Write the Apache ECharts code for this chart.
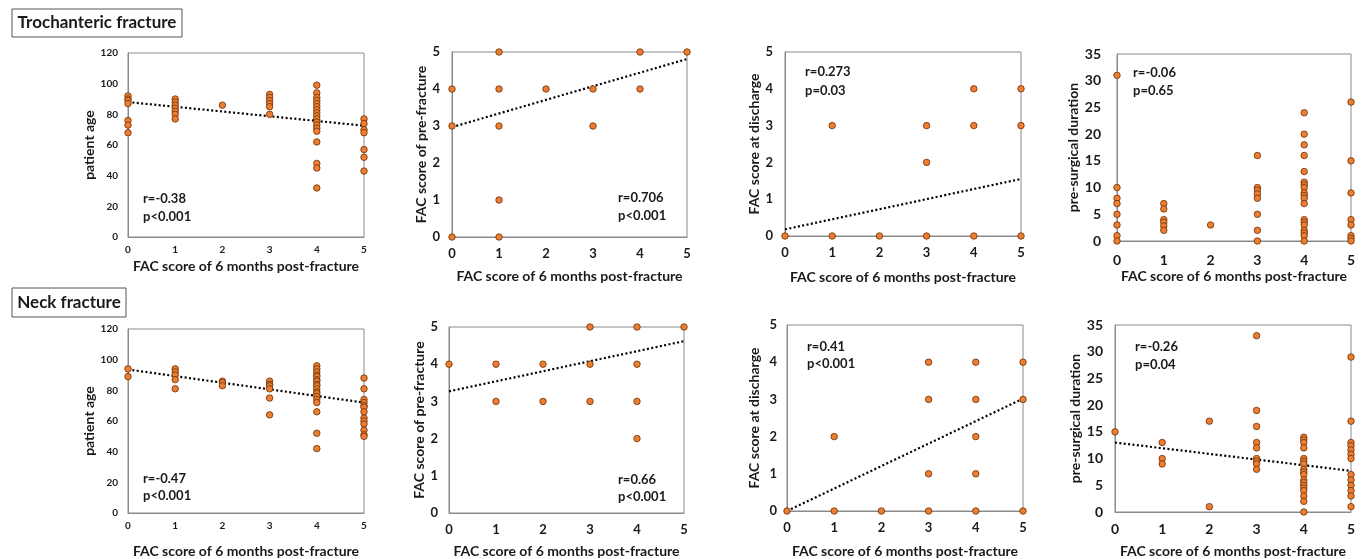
<!DOCTYPE html>
<html><head><meta charset="utf-8">
<script src="https://cdn.jsdelivr.net/npm/echarts@6/dist/echarts.min.js"></script>
<style>html,body{margin:0;padding:0;background:#fff}#c{width:1365px;height:559px}</style>
</head><body><div id="c"></div>
<script>
// ---------- DATA ----------
const facLevels = [0, 1, 2, 3, 4, 5];
const xTickLabels = ['0', '1', '2', '3', '4', '5'];
const ageTicks = [0, 20, 40, 60, 80, 100, 120];
const facTicks = [0, 1, 2, 3, 4, 5];
const durTicks = [0, 5, 10, 15, 20, 25, 30, 35];

// Trochanteric fracture: values per FAC-at-6-months level (0..5)
const trochAge = [
  [92, 90, 89, 87, 76, 73, 68],
  [90, 88, 86, 84, 82, 80, 77],
  [86],
  [93, 91, 89, 87, 85, 80],
  [99, 94, 91, 89, 87, 85, 83, 81, 79, 77, 75, 73, 71, 69, 62, 48, 45, 32],
  [77, 74, 70, 68, 57, 52, 43]
];
const trochPre = [[4, 3, 0], [5, 4, 3, 1, 0], [4], [4, 3], [5, 4], [5]];
const trochDis = [[0], [3, 0], [0], [3, 2, 0], [4, 3, 0], [4, 3, 0]];
const trochDur = [
  [31, 10, 8, 7, 5, 3, 1, 0],
  [7, 6, 4, 3.5, 2.8, 2],
  [3],
  [16, 10, 9.5, 8.8, 8, 5, 2, 0],
  [24, 20, 18, 16, 13, 11, 10.5, 10, 9, 8.5, 8, 7, 4, 3.5, 3, 2, 1.5, 1, 0],
  [26, 15, 9, 4, 3, 1, 0.5, 0]
];

// Neck fracture
const neckAge = [
  [94, 89],
  [94, 92, 90, 87, 81],
  [86, 85, 83],
  [86, 84, 83, 81, 75, 64],
  [96, 94, 92, 90, 89, 87, 86, 84, 83, 81, 79, 78, 76, 74, 72, 66, 52, 42],
  [88, 81, 74, 72, 70, 69, 66, 62, 60, 58, 54, 51, 50]
];
const neckPre = [[4], [4, 3], [4, 3], [5, 4, 3], [5, 4, 3, 2], [5]];
const neckDis = [[0], [2, 0], [0], [4, 3, 1, 0], [4, 3, 2, 1, 0], [4, 3, 0]];
const neckDur = [
  [15],
  [13, 10, 9],
  [17, 1],
  [33, 19, 16, 13, 12, 10, 9.5, 9, 8],
  [14, 13.5, 13, 12, 10, 9.5, 9, 8, 7.5, 7, 6, 5.5, 5, 4.5, 4, 3, 2, 0],
  [29, 17, 13, 12.4, 11.6, 10.8, 10, 7, 6, 5, 4, 3, 1]
];

// Fitted trend lines: values at FAC 0 and FAC 5 (null = no line)
const trendTrochAge = [88, 72.6];
const trendTrochPre = [2.97, 4.81];
const trendTrochDis = [0.18, 1.55];
const trendTrochDur = null;
const trendNeckAge = [93.6, 72];
const trendNeckPre = [3.27, 4.62];
const trendNeckDis = [0, 3.02];
const trendNeckDur = [13, 7.7];

const statsR = ['r=-0.38', 'r=0.706', 'r=0.273', 'r=-0.06', 'r=-0.47', 'r=0.66', 'r=0.41', 'r=-0.26'];
const statsP = ['p<0.001', 'p<0.001', 'p=0.03', 'p=0.65', 'p<0.001', 'p<0.001', 'p<0.001', 'p=0.04'];

const xAxisTitle = 'FAC score of 6 months post-fracture';
const yTitles = ['patient age', 'FAC score of pre-fracture', 'FAC score at discharge', 'pre-surgical duration'];
const groupTitles = ['Trochanteric fracture', 'Neck fracture'];

// ---------- LAYOUT ----------
const FONT = 'Lato';
const TXT = '#1a1a1a';
const panels = [
  {d: trochAge, t: trendTrochAge, yt: 0, ticks: ageTicks, g: [128, 53, 236, 184], tf: 10, ym: 10, xm: 8, yng: 23, xng: 22},
  {d: trochPre, t: trendTrochPre, yt: 1, ticks: facTicks, g: [452, 52, 235, 185], tf: 13, ym: 12, xm: 10, yng: 24, xng: 32},
  {d: trochDis, t: trendTrochDis, yt: 2, ticks: facTicks, g: [785, 52, 236, 184], tf: 13, ym: 12, xm: 10, yng: 24, xng: 34},
  {d: trochDur, t: trendTrochDur, yt: 3, ticks: durTicks, g: [1117, 54, 234, 187], tf: 14, ym: 16, xm: 12, yng: 30, xng: 28},
  {d: neckAge, t: trendNeckAge, yt: 0, ticks: ageTicks, g: [128, 329, 236, 185], tf: 10, ym: 10, xm: 8, yng: 23, xng: 31},
  {d: neckPre, t: trendNeckPre, yt: 1, ticks: facTicks, g: [449, 327, 235, 186], tf: 13, ym: 11, xm: 10, yng: 21, xng: 31},
  {d: neckDis, t: trendNeckDis, yt: 2, ticks: facTicks, g: [787, 325, 236, 187], tf: 13, ym: 10, xm: 10, yng: 26, xng: 33},
  {d: neckDur, t: trendNeckDur, yt: 3, ticks: durTicks, g: [1115, 325, 236, 187], tf: 14, ym: 12, xm: 10, yng: 30, xng: 32}
];
const statPos = [
  [143, 200, 218], [618, 199, 217], [805, 73, 92], [1133, 74, 92],
  [143, 480, 497], [618, 481, 498], [807, 348, 365], [1135, 348, 366]
];

const grid = [], xAxis = [], yAxis = [], series = [], graphic = [];
panels.forEach((p, i) => {
  grid.push({left: p.g[0], top: p.g[1], width: p.g[2], height: p.g[3], show: true,
    borderColor: '#8a8a8a', borderWidth: 1, containLabel: false});
  xAxis.push({gridIndex: i, type: 'value', min: 0, max: 5, interval: 1,
    name: xAxisTitle, nameLocation: 'middle', nameGap: p.xng,
    nameTextStyle: {fontFamily: FONT, fontWeight: 'bold', fontSize: 14, color: TXT},
    axisLine: {show: true, lineStyle: {color: '#8a8a8a', width: 1}},
    axisTick: {show: false}, splitLine: {show: false},
    axisLabel: {margin: p.xm, fontFamily: FONT, fontWeight: 'bold', fontSize: p.tf, color: TXT,
      formatter: v => xTickLabels[facLevels.indexOf(v)]}});
  const ticks = p.ticks;
  yAxis.push({gridIndex: i, type: 'value', min: ticks[0], max: ticks[ticks.length - 1], interval: ticks[1] - ticks[0],
    name: yTitles[p.yt], nameLocation: 'middle', nameGap: p.yng, nameRotate: 90,
    nameTextStyle: {fontFamily: FONT, fontWeight: 'bold', fontSize: 14, color: TXT},
    axisLine: {show: true, lineStyle: {color: '#8a8a8a', width: 1}},
    axisTick: {show: false}, splitLine: {show: false},
    axisLabel: {margin: p.ym, fontFamily: FONT, fontWeight: 'bold', fontSize: p.tf, color: TXT}});
  if (p.t) {
    series.push({type: 'line', xAxisIndex: i, yAxisIndex: i, symbol: 'none', silent: true,
      data: [[facLevels[0], p.t[0]], [facLevels[facLevels.length - 1], p.t[1]]],
      lineStyle: {color: '#000', width: 2.2, type: [2, 2.4]}, z: 3});
  }
  const pts = [];
  p.d.forEach((col, k) => col.forEach(v => pts.push([facLevels[k], v])));
  series.push({type: 'scatter', xAxisIndex: i, yAxisIndex: i, data: pts, symbolSize: 6.5, clip: false,
    itemStyle: {color: '#ED7D31', borderColor: '#6b3006', borderWidth: 0.8, opacity: 1}, z: 4});
  const sp = statPos[i];
  graphic.push({type: 'text', left: sp[0], top: sp[1] - 8, style: {text: statsR[i], font: `bold 13px ${FONT}`, fill: TXT}});
  graphic.push({type: 'text', left: sp[0], top: sp[2] - 8, style: {text: statsP[i], font: `bold 13px ${FONT}`, fill: TXT}});
});

// group title boxes
const boxes = [[12, 9, 170, 28], [12, 288, 114, 29]];
boxes.forEach((b, i) => {
  graphic.push({type: 'rect', shape: {x: b[0], y: b[1], width: b[2], height: b[3]},
    style: {fill: '#fff', stroke: '#555', lineWidth: 1}});
  graphic.push({type: 'text', x: b[0] + b[2] / 2, y: b[1] + b[3] / 2,
    style: {text: groupTitles[i], font: `bold 17px ${FONT}`, fill: TXT, align: 'center', verticalAlign: 'middle'}});
});

const chart = echarts.init(document.getElementById('c'), null, {renderer: 'canvas'});
chart.setOption({animation: false, backgroundColor: '#fff', grid, xAxis, yAxis, series, graphic});
</script></body></html>
